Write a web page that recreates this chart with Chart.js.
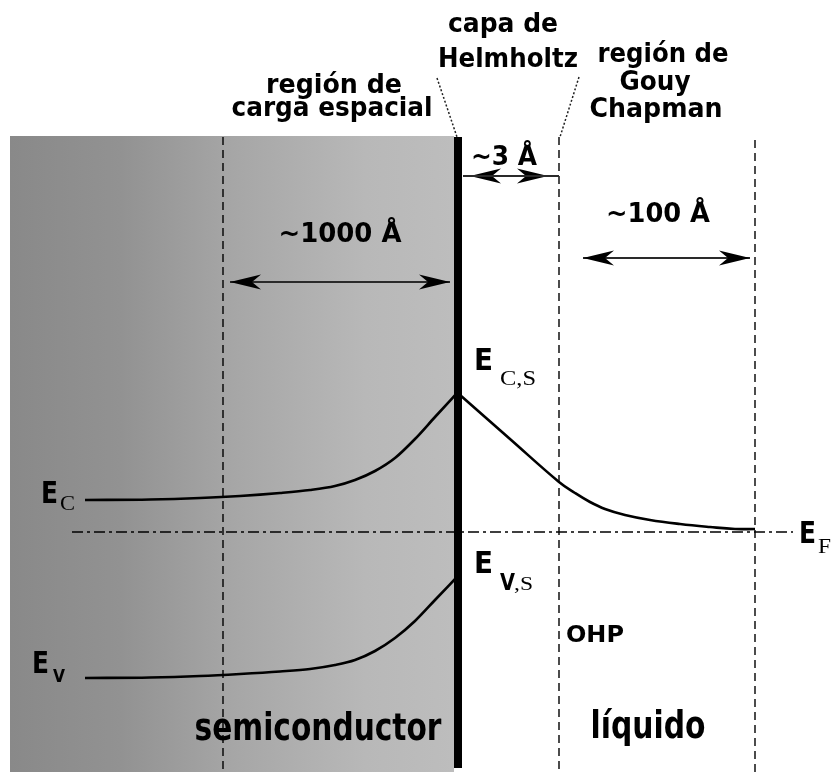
<!DOCTYPE html>
<html>
<head>
<meta charset="utf-8">
<script src="https://cdn.jsdelivr.net/npm/chart.js@4/dist/chart.umd.min.js"></script>
<style>
  html, body { margin: 0; padding: 0; background: #ffffff; overflow: hidden; }
  #wrap { width: 834px; height: 772px; position: relative; }
</style>
</head>
<body>
<div id="wrap"><canvas id="c"></canvas></div>
<script>
// ---- Data (diagram units: x = position, y = energy axis drawn downward) ----
const semiconductorX = [10, 454];
const semiconductorTop = 136;
const frameBottom = 772;

const ecSemiX = [85, 150, 200, 240, 280, 310, 335, 355, 375, 395, 415, 435, 458];
const ecSemiY = [500, 499.5, 498, 496, 493, 490, 486, 480, 471, 458, 439, 417, 392];

const ecLiqX = [460, 510, 559, 575, 590, 605, 625, 650, 680, 710, 735, 755];
const ecLiqY = [395, 439, 482, 493, 502, 509, 515, 520, 524, 527, 529, 529];

const evX = [85, 150, 200, 240, 280, 310, 335, 355, 375, 395, 415, 435, 456];
const evY = [678, 677.5, 676, 674, 671.5, 669, 665, 660, 651, 638, 621, 600, 578];

const fermiX = [72, 793];
const fermiLevel = 532;

const boundaryX = [223, 559, 755];
const boundaryTop = [137, 137, 140];

const surfaceX = 458;
const surfaceY = [137, 768];

const leaderLeftX = [437, 457];
const leaderLeftY = [78, 137];
const leaderRightX = [579, 560];
const leaderRightY = [77, 137];

const arrow1000X = [230, 450]; const arrow1000Y = 282;
const arrow100X = [583, 750];  const arrow100Y = 258;
const arrow3LineX = [463, 559]; const arrow3TipX = [470, 548]; const arrow3Y = 176;

// ---- helpers ----
const pts = (xs, ys) => xs.map((x, i) => ({ x, y: Array.isArray(ys) ? ys[i] : ys }));

function arrowHead() {
  const c = document.createElement('canvas');
  c.width = 66; c.height = 18;
  const g = c.getContext('2d');
  g.fillStyle = '#000';
  g.beginPath();
  g.moveTo(33, 9);
  g.lineTo(2, 1.5);
  g.lineTo(11, 9);
  g.lineTo(2, 16.5);
  g.closePath();
  g.fill();
  return c;
}
const head = arrowHead();

function lineDS(data, extra) {
  return Object.assign({
    data, showLine: true, pointRadius: 0, pointHoverRadius: 0, borderColor: '#000', borderWidth: 2,
    fill: false, tension: 0, order: 5
  }, extra || {});
}

function arrowDS(xs, y) {
  return lineDS(pts(xs, y), {
    borderColor: '#2a2a2a', borderWidth: 2, order: 2,
    pointRadius: 1, pointStyle: head,
    pointRotation: (c) => (c.dataIndex === 0 ? 180 : 0)
  });
}

const datasets = [
  // semiconductor gradient block
  lineDS(pts(semiconductorX, semiconductorTop), {
    borderWidth: 0, borderColor: 'rgba(0,0,0,0)', fill: { value: frameBottom }, order: 20,
    backgroundColor: (c) => {
      const ch = c.chart;
      if (!ch.chartArea) return '#a8a8a8';
      const x0 = ch.scales.x.getPixelForValue(semiconductorX[0]);
      const x1 = ch.scales.x.getPixelForValue(semiconductorX[1]);
      const g = ch.ctx.createLinearGradient(x0, 0, x1, 0);
      g.addColorStop(0, '#898989');
      g.addColorStop(0.25, '#929292');
      g.addColorStop(0.5, '#a6a6a6');
      g.addColorStop(0.8, '#b8b8b8');
      g.addColorStop(1, '#bdbdbd');
      return g;
    }
  }),
  // dashed boundaries
  ...boundaryX.map((bx, i) => lineDS(pts([bx, bx], [boundaryTop[i], frameBottom]), {
    borderWidth: 1.4, borderDash: [8, 5], order: 10
  })),
  // Fermi level
  lineDS(pts(fermiX, fermiLevel), { borderWidth: 1.6, borderDash: [11, 4, 3, 4], order: 9 }),
  // bands
  lineDS(pts(ecSemiX, ecSemiY), { cubicInterpolationMode: 'monotone', borderWidth: 2.6 }),
  lineDS(pts(ecLiqX, ecLiqY), { tension: 0.4, borderWidth: 2.6 }),
  lineDS(pts(evX, evY), { cubicInterpolationMode: 'monotone', borderWidth: 2.6 }),
  // surface
  lineDS(pts([surfaceX, surfaceX], surfaceY), { borderWidth: 8, borderCapStyle: 'butt', order: 1 }),
  // leaders
  lineDS(pts(leaderLeftX, leaderLeftY), { borderWidth: 1.5, borderDash: [2, 2], borderColor: '#222', order: 3 }),
  lineDS(pts(leaderRightX, leaderRightY), { borderWidth: 1.5, borderDash: [2, 2], borderColor: '#222', order: 3 }),
  // arrows
  arrowDS(arrow1000X, arrow1000Y),
  arrowDS(arrow100X, arrow100Y),
  lineDS(pts(arrow3LineX, arrow3Y), { borderColor: '#2a2a2a', borderWidth: 2, order: 2 }),
  arrowDS(arrow3TipX, arrow3Y)
];

// ---- text layout ----
const SANS = '"DejaVu Sans", "Liberation Sans", sans-serif';
const SERIF = '"Liberation Serif", "DejaVu Serif", serif';
const labels = [
  { t: 'región de', x: 334, y: 93, s: 26, w: 136 },
  { t: 'carga espacial', x: 332, y: 116, s: 26, w: 201 },
  { t: 'capa de', x: 503, y: 32, s: 26, w: 110 },
  { t: 'Helmholtz', x: 508, y: 67, s: 26, w: 140 },
  { t: 'región de', x: 663, y: 62, s: 26, w: 131 },
  { t: 'Gouy', x: 655, y: 90, s: 26, w: 71 },
  { t: 'Chapman', x: 656, y: 117, s: 26, w: 133 },
  { t: '~3 Å', x: 504, y: 165, s: 26, w: 66 },
  { t: '~100 Å', x: 658, y: 222, s: 26, w: 104 },
  { t: '~1000 Å', x: 340, y: 242, s: 26, w: 123 },
  { t: 'semiconductor', x: 318, y: 740, s: 37, w: 247 },
  { t: 'líquido', x: 648, y: 738, s: 37, w: 115 },
  { t: 'OHP', x: 595, y: 642, s: 23, w: 58 },
  // energy symbols (left aligned)
  { t: 'E', x: 41, y: 503, s: 30, w: 17, a: 'left' },
  { t: 'C', x: 60, y: 510, s: 20, w: 15, a: 'left', f: SERIF, n: true },
  { t: 'E', x: 32, y: 673, s: 30, w: 17, a: 'left' },
  { t: 'V', x: 53, y: 682, s: 17, w: 12, a: 'left' },
  { t: 'E', x: 799, y: 543, s: 30, w: 17, a: 'left' },
  { t: 'F', x: 818, y: 553, s: 20, w: 13, a: 'left', f: SERIF, n: true },
  { t: 'E', x: 474, y: 370, s: 31, w: 19, a: 'left' },
  { t: 'C,S', x: 500, y: 385, s: 21, w: 36, a: 'left', f: SERIF, n: true },
  { t: 'E', x: 474, y: 573, s: 31, w: 19, a: 'left' },
  { t: 'V', x: 500, y: 590, s: 23, w: 15, a: 'left' },
  { t: ',S', x: 514, y: 590, s: 19, w: 19, a: 'left', f: SERIF, n: true }
];

const textPlugin = {
  id: 'diagramText',
  afterDatasetsDraw(chart) {
    const { ctx, scales } = chart;
    ctx.save();
    ctx.fillStyle = '#000';
    ctx.textBaseline = 'alphabetic';
    for (const L of labels) {
      const fam = L.f || SANS;
      ctx.font = (L.n ? '' : 'bold ') + L.s + 'px ' + fam;
      const m = ctx.measureText(L.t).width;
      const k = L.w ? L.w / m : 1;
      const px = scales.x.getPixelForValue(L.x);
      const py = scales.y.getPixelForValue(L.y);
      ctx.save();
      ctx.translate(px, py);
      ctx.scale(k, 1);
      ctx.textAlign = L.a || 'center';
      ctx.fillText(L.t, 0, 0);
      ctx.restore();
    }
    ctx.restore();
  }
};

new Chart(document.getElementById('c'), {
  type: 'scatter',
  data: { datasets },
  options: {
    responsive: true,
    maintainAspectRatio: false,
    animation: false,
    layout: { padding: 0, autoPadding: false },
    plugins: { legend: { display: false }, tooltip: { enabled: false } },
    events: [],
    scales: {
      x: { type: 'linear', min: 0, max: 834, display: false },
      y: { type: 'linear', min: 0, max: 772, reverse: true, display: false }
    }
  },
  plugins: [textPlugin]
});
</script>
</body>
</html>
